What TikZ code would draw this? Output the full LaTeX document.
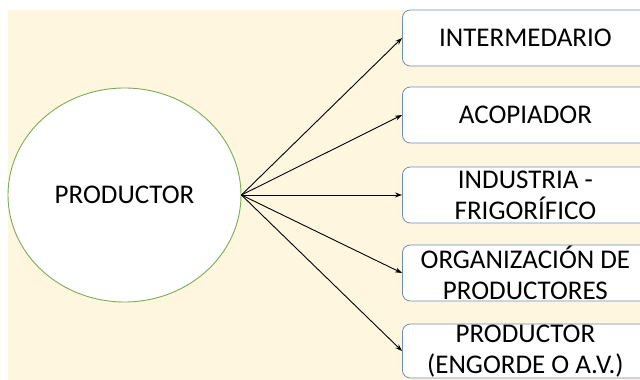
\documentclass[tikz,border=0pt]{standalone}
\usepackage{fontspec}
\setmainfont{Carlito}
\usetikzlibrary{shapes.geometric,arrows.meta}
\definecolor{bg}{HTML}{FEF6DF}
\definecolor{boxline}{RGB}{110,140,185}
\definecolor{circline}{RGB}{120,175,85}
\begin{document}
\begin{tikzpicture}[x=1pt,y=-1pt,
  boxnode/.style={draw=boxline, line width=0.8pt, fill=white, rounded corners=8pt,
    minimum width=246pt, minimum height=56pt, anchor=west, inner sep=0pt,
    align=center, font=\fontsize{27}{31}\selectfont},
  arr/.style={-{Stealth[length=7pt,width=5pt]}, line width=0.9pt}]
\clip (0,0) rectangle (640,380);
\fill[white] (0,0) rectangle (640,380);
\fill[bg] (8,10) rectangle (640,380);
\node[ellipse, draw=circline, line width=0.9pt, fill=white, minimum width=233pt,
  minimum height=214pt, inner sep=0pt, font=\fontsize{27}{31}\selectfont] (prod) at (124.5,195) {PRODUCTOR};
\node[boxnode] (b1) at (402,38) {INTERMEDARIO};
\node[boxnode] (b2) at (402,115) {ACOPIADOR};
\node[boxnode] (b3) at (402,195) {INDUSTRIA -\\FRIGORÍFICO};
\node[boxnode] (b4) at (402,273) {ORGANIZACIÓN DE\\PRODUCTORES};
\node[boxnode, minimum height=54pt] (b5) at (402,351) {PRODUCTOR\\(ENGORDE O A.V.)};
\foreach \b in {b1,b2,b3,b4,b5} \draw[arr] (prod.east) -- (\b.west);
\end{tikzpicture}
\end{document}
